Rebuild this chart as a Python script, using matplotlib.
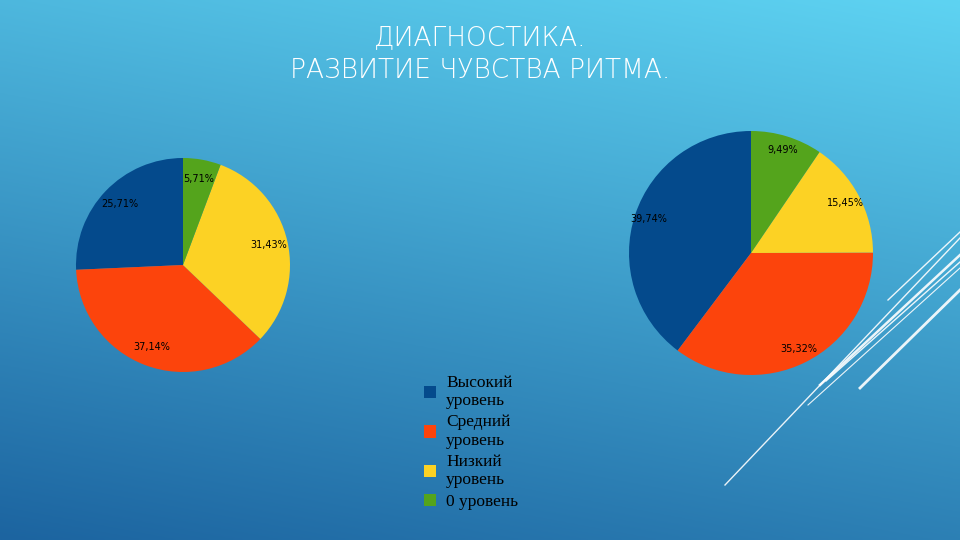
import matplotlib
matplotlib.use("Agg")
import matplotlib.pyplot as plt
import numpy as np
from matplotlib.patches import Patch

categories = ["Высокий уровень", "Средний уровень", "Низкий уровень", "0 уровень"]
legend_labels = ["Высокий\nуровень", "Средний\nуровень", "Низкий\nуровень", "0 уровень"]
left_values = [25.71, 37.14, 31.43, 5.71]
right_values = [39.74, 35.32, 15.45, 9.49]
colors = ["#044a8c", "#fc440c", "#fcd224", "#54a41c"]

fig = plt.figure(figsize=(9.6, 5.4), dpi=100)
bg = fig.add_axes([0, 0, 1, 1])
bg.axis("off")
t = np.linspace(0, 1, 256)[:, None]
x = np.linspace(0, 1, 256)[None, :]
f = np.clip(0.75 * t + 0.25 * (1 - x), 0, 1)
top = np.array([0x5e, 0xd3, 0xf2]) / 255
bot = np.array([0x1c, 0x64, 0xa0]) / 255
img = top[None, None, :] * (1 - f[..., None]) + bot[None, None, :] * f[..., None]
bg.imshow(img, extent=[0, 960, 540, 0], aspect="auto")
for (x0, y0, x1, y1, w) in [(725, 485, 960, 238, 1.0), (820, 385, 960, 255, 1.8),
                            (826, 381, 960, 262, 1.0), (860, 388, 960, 290, 2.0),
                            (888, 300, 960, 232, 1.0), (808, 405, 960, 268, 0.8)]:
    bg.plot([x0, x1], [y0, y1], color="white", lw=w, alpha=0.9)
bg.set_xlim(0, 960); bg.set_ylim(540, 0)

fig.text(0.5, 0.93, "ДИАГНОСТИКА.", ha="center", va="center", color="white",
         fontsize=19, family="DejaVu Sans", fontweight="light")
fig.text(0.5, 0.87, "РАЗВИТИЕ ЧУВСТВА РИТМА.", ha="center", va="center", color="white",
         fontsize=19, family="DejaVu Sans", fontweight="light")

ax1 = fig.add_axes([(183 - 107)/960, 1 - (265 + 107)/540, 214/960, 214/540])
ax1.pie(left_values, colors=colors, startangle=90, counterclock=True,
        autopct=lambda p: f"{p:.2f}%".replace(".", ","), pctdistance=0.82,
        textprops=dict(fontsize=7, color="black"))
ax1.set_xlim(-1, 1); ax1.set_ylim(-1, 1)

ax2 = fig.add_axes([(751 - 122)/960, 1 - (253 + 122)/540, 244/960, 244/540])
ax2.pie(right_values, colors=colors, startangle=90, counterclock=True,
        autopct=lambda p: f"{p:.2f}%".replace(".", ","), pctdistance=0.88,
        textprops=dict(fontsize=7, color="black"))
ax2.set_xlim(-1, 1); ax2.set_ylim(-1, 1)

handles = [Patch(facecolor=c, edgecolor="none") for c in colors]
fig.legend(handles, legend_labels, loc="upper left", bbox_to_anchor=(0.425, 0.335),
           frameon=False, prop=dict(family="Liberation Serif", size=12.5),
           handlelength=0.7, handleheight=0.7, labelspacing=0.3, handletextpad=0.6)

fig.savefig("out.png", dpi=100)
